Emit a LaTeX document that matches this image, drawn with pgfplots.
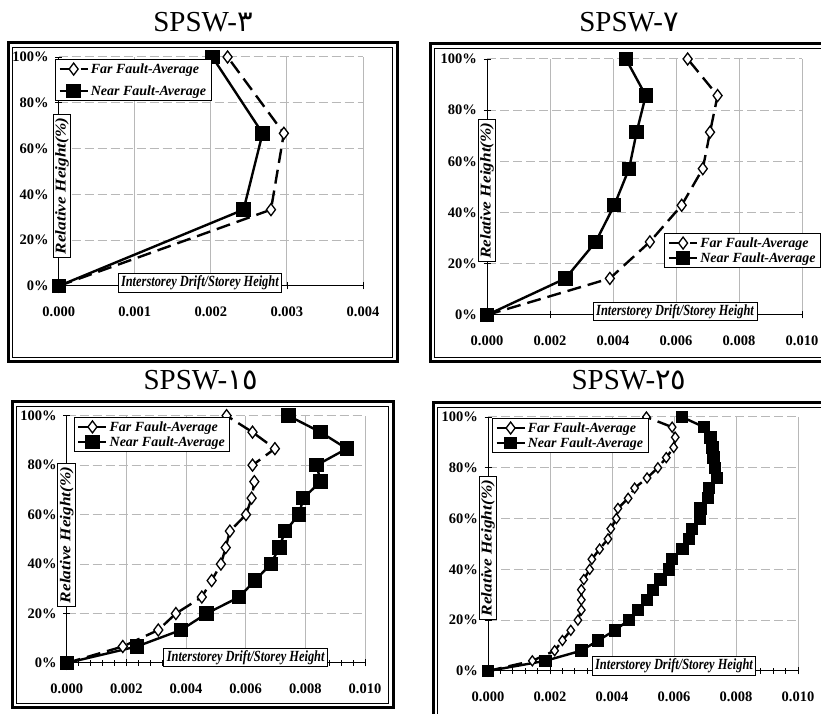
\documentclass[border=0pt]{standalone}
\usepackage{pgfplots}
\pgfplotsset{compat=1.18}
\usepackage{fontspec}
\setmainfont{Liberation Serif}
\newfontfamily\arabicfont{DejaVu Sans}

\pgfplotsset{
  panel/.style={
    scale only axis, anchor=south west,
    xmin=0, ymin=0, ymax=100,
    axis x line*=bottom, axis y line*=left,
    axis line style={black, line width=1pt},
    grid=major,
    x grid style={black!28, line width=1pt},
    y grid style={black!28, line width=1pt, dash pattern=on 9pt off 4pt},
    ytick={0,20,40,60,80,100},
    yticklabels={0\%,20\%,40\%,60\%,80\%,100\%},
    scaled x ticks=false,
    tick align=center,
    major tick length=7pt, minor tick length=6pt,
    tick style={black, line width=0.8pt},
    ticklabel style={font=\fontsize{14.5}{15}\selectfont\bfseries},
    /pgf/number format/assume math mode=true,
    xticklabel style={yshift=-14pt},
    yticklabel style={xshift=-3pt},
    xlabel={\scalebox{0.8}[1]{Interstorey Drift/Storey Height}},
    ylabel={\scalebox{1.15}[1]{Relative Height(\%)}},
    xlabel style={font=\fontsize{15.5}{16}\selectfont\bfseries\itshape},
    ylabel style={font=\fontsize{15}{16}\selectfont\bfseries\itshape, inner ysep=1pt},
    label style={draw=black, fill=white, line width=0.8pt, inner xsep=3pt, inner ysep=2pt},
    legend style={draw=black, line width=0.8pt, fill=white,
      font=\fontsize{14}{15}\selectfont\bfseries\itshape, cells={anchor=west},
      inner xsep=3pt, inner ysep=2pt},
    legend cell align=left,
    legend image code/.code={\draw[mark repeat=2,mark phase=2,##1] plot coordinates {(0pt,0pt)(14pt,0pt)(28pt,0pt)};},
    clip=false,
  },
  near/.style={black, line width=2.4pt, mark=square*, mark size=6pt, mark options={solid}},
  far/.style={black, line width=2.4pt, dash pattern=on 14pt off 7pt, mark=diamond*, mark size=6pt,
    mark options={solid, fill=white, line width=1.3pt}},
}

\begin{document}
\begin{tikzpicture}
\path[use as bounding box, clip] (0pt,0pt) rectangle (821pt,714pt);
\fill[white] (0pt,0pt) rectangle (821pt,714pt);

% frames
\draw[line width=3pt] (8pt,352pt) rectangle (397pt,671pt);
\draw[line width=0.8pt] (12.5pt,356.5pt) rectangle (392.5pt,666.5pt);
\draw[line width=3pt] (430pt,352pt) rectangle (840pt,670pt);
\draw[line width=0.8pt] (434.5pt,356.5pt) rectangle (845pt,665.5pt);
\draw[line width=3pt] (12pt,6pt) rectangle (393pt,312pt);
\draw[line width=0.8pt] (16.5pt,10.5pt) rectangle (388.5pt,307.5pt);
\draw[line width=3pt] (433pt,-20pt) rectangle (840pt,311pt);
\draw[line width=0.8pt] (437.5pt,-20pt) rectangle (845pt,306.5pt);

% titles
\node[font=\fontsize{29}{29}\selectfont] at (203pt,692pt) {SPSW-{\arabicfont ٣}};
\node[font=\fontsize{29}{29}\selectfont] at (629pt,692pt) {SPSW-{\arabicfont ٧}};
\node[font=\fontsize{29}{29}\selectfont] at (201pt,334pt) {SPSW-{\arabicfont ١٥}};
\node[font=\fontsize{29}{29}\selectfont] at (629pt,334pt) {SPSW-{\arabicfont ٢٥}};

% ---------- SPSW-3 ----------
\begin{axis}[panel, at={(58.7pt,428pt)}, width=304.3pt, height=229pt,
  xmax=0.004, xtick={0,0.001,0.002,0.003,0.004},
  xticklabels={0.000,0.001,0.002,0.003,0.004},
  xlabel style={at={(rel axis cs:0.464,0.013)}, anchor=center},
  ylabel style={at={(rel axis cs:0.011,0.437)}, anchor=center},
  legend style={at={(rel axis cs:-0.012,0.991)}, anchor=north west, row sep=7pt}]
\addplot[far] coordinates {(0,0) (0.00279,33.33) (0.00296,66.67) (0.00222,100)};
\addlegendentry{Far Fault-Average}
\addplot[near] coordinates {(0,0) (0.00243,33.33) (0.00268,66.67) (0.00202,100)};
\addlegendentry{Near Fault-Average}
\end{axis}

% ---------- SPSW-7 ----------
\begin{axis}[panel, at={(487pt,399pt)}, width=315pt, height=256pt,
  xmax=0.010, xtick={0,0.002,0.004,0.006,0.008,0.010},
  xticklabels={0.000,0.002,0.004,0.006,0.008,0.010},
  xlabel style={at={(rel axis cs:0.597,0.014)}, anchor=center},
  ylabel style={at={(rel axis cs:0.0,0.486)}, anchor=center},
  legend style={at={(rel axis cs:1.06,0.32)}, anchor=north east}]
\addplot[far] coordinates {(0,0) (0.00390,14.29) (0.00517,28.57) (0.00618,42.86) (0.00685,57.14)
  (0.00708,71.43) (0.00732,85.71) (0.00637,100)};
\addlegendentry{Far Fault-Average}
\addplot[near] coordinates {(0,0) (0.00249,14.29) (0.00345,28.57) (0.00404,42.86) (0.00451,57.14)
  (0.00475,71.43) (0.00504,85.71) (0.00441,100)};
\addlegendentry{Near Fault-Average}
\end{axis}

% ---------- SPSW-15 ----------
\begin{axis}[panel, at={(66.7pt,51pt)}, width=298.3pt, height=247.3pt,
  xmax=0.010, xtick={0,0.002,0.004,0.006,0.008,0.010},
  xticklabels={0.000,0.002,0.004,0.006,0.008,0.010},
  minor x tick num=4,
  xlabel style={at={(rel axis cs:0.6,0.022)}, anchor=center},
  ylabel style={at={(rel axis cs:0.0,0.518)}, anchor=center},
  legend style={at={(rel axis cs:0.024,0.995)}, anchor=north west}]
\addplot[far, forget plot] coordinates {(0,0) (0.00188,6.67) (0.00307,13.33) (0.00366,20) (0.00453,26.67)
  (0.00486,33.33) (0.00517,40) (0.00533,46.67) (0.00547,53.33) (0.00601,60) (0.00620,66.67)
  (0.00629,73.33) (0.00623,80) (0.00698,86.67) (0.00623,93.33) (0.00536,100)};
\addlegendimage{far, solid}
\addlegendentry{Far Fault-Average}
\addplot[near] coordinates {(0,0) (0.00235,6.67) (0.00383,13.33) (0.00469,20) (0.00578,26.67)
  (0.00631,33.33) (0.00684,40) (0.00713,46.67) (0.00732,53.33) (0.00779,60) (0.00793,66.67)
  (0.00851,73.33) (0.00838,80) (0.00939,86.67) (0.00851,93.33) (0.00743,100)};
\addlegendentry{Near Fault-Average}
\end{axis}

% ---------- SPSW-25 ----------
\begin{axis}[panel, at={(488pt,43pt)}, width=310pt, height=254pt,
  xmax=0.010, xtick={0,0.002,0.004,0.006,0.008,0.010},
  xticklabels={0.000,0.002,0.004,0.006,0.008,0.010},
  minor x tick num=4,
  xlabel style={at={(rel axis cs:0.6,0.02)}, anchor=center},
  ylabel style={at={(rel axis cs:0.0,0.484)}, anchor=center},
  legend style={at={(rel axis cs:0.013,0.996)}, anchor=north west}]
\addplot[far, mark size=5pt, forget plot] coordinates {(0,0) (0.00143,4) (0.00215,8) (0.00240,12) (0.00267,16)
  (0.00290,20) (0.00301,24) (0.00301,28) (0.00301,32) (0.00309,36) (0.00328,40) (0.00335,44)
  (0.00360,48) (0.00387,52) (0.00396,56) (0.00414,60) (0.00419,64) (0.00452,68) (0.00473,72)
  (0.00513,76) (0.00548,80) (0.00575,84) (0.00599,88) (0.00604,92) (0.00594,96) (0.00511,100)};
\addlegendimage{far, solid}
\addlegendentry{Far Fault-Average}
\addplot[near, mark size=5pt] coordinates {(0,0) (0.00185,4) (0.00301,8) (0.00355,12) (0.00409,16)
  (0.00454,20) (0.00484,24) (0.00513,28) (0.00532,32) (0.00556,36) (0.00583,40) (0.00594,44)
  (0.00627,48) (0.00648,52) (0.00659,56) (0.00683,60) (0.00685,64) (0.00710,68) (0.00712,72)
  (0.00739,76) (0.00733,80) (0.00728,84) (0.00724,88) (0.00718,92) (0.00697,96) (0.00626,100)};
\addlegendentry{Near Fault-Average}
\end{axis}
\end{tikzpicture}
\end{document}
